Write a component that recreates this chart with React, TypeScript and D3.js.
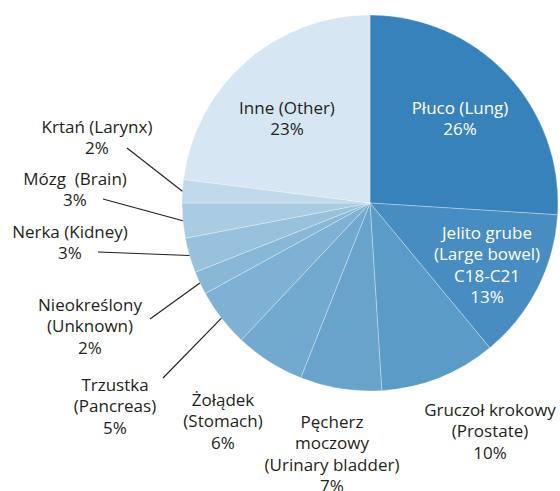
import React from "react";
import { pie, arc, PieArcDatum } from "d3";

// data, clockwise from 12 o'clock
const categories = [
  "Płuco (Lung)",
  "Jelito grube (Large bowel) C18-C21",
  "Gruczoł krokowy (Prostate)",
  "Pęcherz moczowy (Urinary bladder)",
  "Żołądek (Stomach)",
  "Trzustka (Pancreas)",
  "Nieokreślony (Unknown)",
  "Nerka (Kidney)",
  "Mózg (Brain)",
  "Krtań (Larynx)",
  "Inne (Other)",
];
const values = [26, 13, 10, 7, 6, 5, 2, 3, 3, 2, 23];
const labelLines = [
  ["Płuco (Lung)"],
  ["Jelito grube", "(Large bowel)", "C18-C21"],
  ["Gruczoł krokowy", "(Prostate)"],
  ["Pęcherz", "moczowy", "(Urinary bladder)"],
  ["Żołądek", "(Stomach)"],
  ["Trzustka", "(Pancreas)"],
  ["Nieokreślony", "(Unknown)"],
  ["Nerka (Kidney)"],
  ["Mózg  (Brain)"],
  ["Krtań (Larynx)"],
  ["Inne (Other)"],
];

// layout: colours, label anchor (centre of first line) and leader start
const colors = [
  "#3782ba", "#488dc2", "#5b9bc8", "#68a3cb", "#72a9cf", "#7eb1d4",
  "#89b8d7", "#98c1dd", "#a9cce3", "#c0d9eb", "#d6e6f2",
];
const labelPos: [number, number][] = [
  [460, 108], [487, 233], [490, 410], [332, 422], [223, 400], [115, 385],
  [90, 305], [70, 232], [75, 179], [97, 127], [287, 108],
];
const leaderFrom: ([number, number] | null)[] = [
  null, null, null, null, null, [163, 378], [150, 319], [98, 252], [103, 199], [127, 148], null,
];
const whiteText = [true, true, false, false, false, false, false, false, false, false, false];

const cx = 370;
const cy = 203;
const radius = 188;
const lineH = 21.5;

export default function App() {
  const arcs = pie<number>().sort(null).value((d) => d)(values);
  const arcGen = arc<PieArcDatum<number>>().innerRadius(0).outerRadius(radius);

  return (
    <div style={{ position: "absolute", left: 0, top: 0 }}>
      <svg width={560} height={491} style={{ display: "block", fontFamily: "'Open Sans', sans-serif" }}>
        <rect width={560} height={491} fill="#ffffff" />
        <g transform={`translate(${cx},${cy})`}>
          {arcs.map((a, i) => (
            <path key={categories[i]} d={arcGen(a) || ""} fill={colors[i]} stroke="#ffffff" strokeOpacity={0.5} strokeWidth={0.6} />
          ))}
        </g>
        {arcs.map((a, i) => {
          const from = leaderFrom[i];
          if (!from) return null;
          const mid = (a.startAngle + a.endAngle) / 2;
          const x2 = cx + radius * Math.sin(mid);
          const y2 = cy - radius * Math.cos(mid);
          return <line key={"l" + i} x1={from[0]} y1={from[1]} x2={x2} y2={y2} stroke="#231f20" strokeWidth={1.1} />;
        })}
        {labelLines.map((lines, i) => {
          const [x, y] = labelPos[i];
          const all = [...lines, `${values[i]}%`];
          return (
            <text key={"t" + i} x={x} y={y} textAnchor="middle" fontSize={17} fill={whiteText[i] ? "#ffffff" : "#231f20"}>
              {all.map((s, j) => (
                <tspan key={j} x={x} y={y + j * lineH} dy="0.35em" style={{ whiteSpace: "pre" }}>
                  {s}
                </tspan>
              ))}
            </text>
          );
        })}
      </svg>
    </div>
  );
}
